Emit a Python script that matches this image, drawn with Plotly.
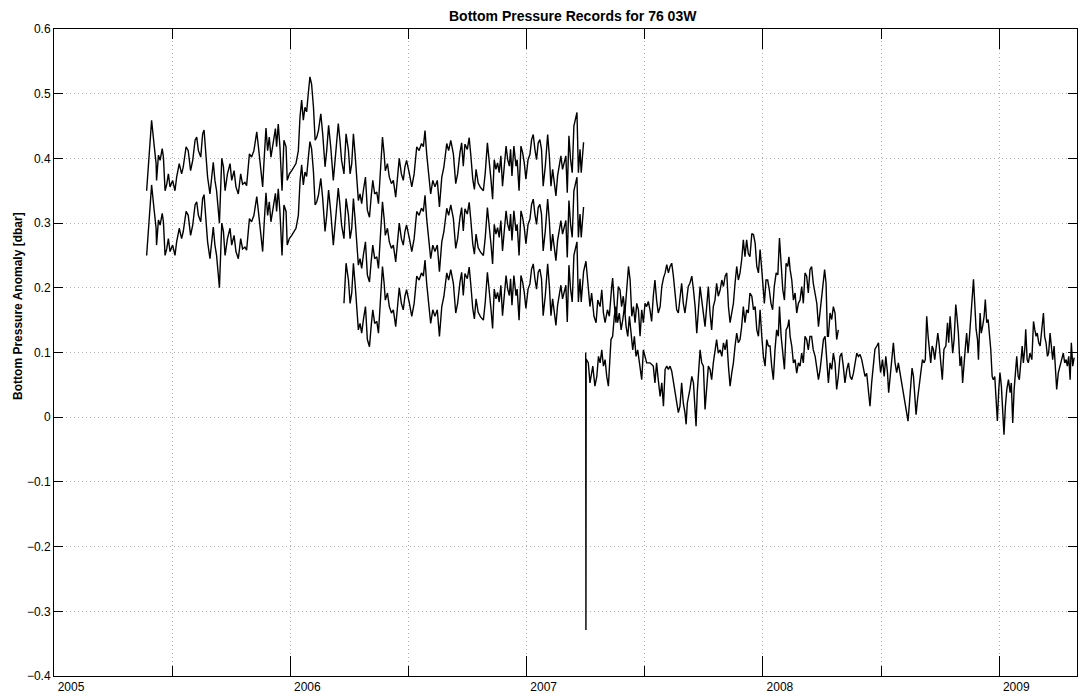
import plotly.graph_objects as go

# ---------------- data (decimal years, dbar) ----------------
t_ab = [
    2005.392, 2005.399, 2005.413, 2005.423, 2005.432, 2005.434, 2005.442, 2005.449, 2005.458, 2005.463,
    2005.470, 2005.477, 2005.484, 2005.491, 2005.502, 2005.512, 2005.519, 2005.530, 2005.540, 2005.547,
    2005.559, 2005.568, 2005.578, 2005.587, 2005.597, 2005.604, 2005.611, 2005.621, 2005.629, 2005.635,
    2005.643, 2005.650, 2005.660, 2005.667, 2005.674, 2005.681, 2005.688, 2005.700, 2005.710, 2005.717,
    2005.724, 2005.734, 2005.745, 2005.752, 2005.762, 2005.770, 2005.780, 2005.790, 2005.798, 2005.808,
    2005.815, 2005.827, 2005.836, 2005.846, 2005.858, 2005.865, 2005.875, 2005.883, 2005.889, 2005.897,
    2005.904, 2005.911, 2005.918, 2005.928, 2005.937, 2005.942, 2005.949, 2005.956, 2005.965, 2005.973,
    2005.982, 2005.987, 2005.996, 2006.006, 2006.016, 2006.024, 2006.034, 2006.041, 2006.048, 2006.055,
    2006.062, 2006.069, 2006.076, 2006.083, 2006.090, 2006.098, 2006.105, 2006.112, 2006.119, 2006.129,
    2006.137, 2006.147, 2006.154, 2006.162, 2006.171, 2006.182, 2006.193, 2006.203, 2006.210, 2006.217,
    2006.227, 2006.236, 2006.246, 2006.253, 2006.260, 2006.267, 2006.274, 2006.281, 2006.288, 2006.295,
    2006.302, 2006.309, 2006.318, 2006.326, 2006.335, 2006.342, 2006.349, 2006.357, 2006.366, 2006.373,
    2006.380, 2006.390, 2006.397, 2006.402, 2006.411, 2006.419, 2006.428, 2006.436, 2006.446, 2006.453,
    2006.461, 2006.470, 2006.478, 2006.485, 2006.492, 2006.504, 2006.514, 2006.524, 2006.535, 2006.545,
    2006.555, 2006.563, 2006.570, 2006.577, 2006.584, 2006.594, 2006.603, 2006.612, 2006.622, 2006.631,
    2006.641, 2006.650, 2006.662, 2006.670, 2006.679, 2006.690, 2006.700, 2006.708, 2006.718, 2006.725,
    2006.732, 2006.739, 2006.749, 2006.757, 2006.764, 2006.772, 2006.779, 2006.786, 2006.795, 2006.805,
    2006.817, 2006.825, 2006.834, 2006.842, 2006.849, 2006.856, 2006.863, 2006.870, 2006.877, 2006.884,
    2006.891, 2006.898, 2006.906, 2006.913, 2006.920, 2006.927, 2006.932, 2006.938, 2006.946, 2006.955,
    2006.960, 2006.968, 2006.976, 2006.983, 2006.990, 2006.997, 2007.006, 2007.014, 2007.021, 2007.028,
    2007.035, 2007.042, 2007.049, 2007.056, 2007.063, 2007.070, 2007.079, 2007.089, 2007.096, 2007.103,
    2007.110, 2007.117, 2007.124, 2007.131, 2007.138, 2007.145, 2007.152, 2007.159, 2007.166, 2007.172,
    2007.179, 2007.186, 2007.193, 2007.200, 2007.207, 2007.213, 2007.219, 2007.226, 2007.231, 2007.238,
    2007.241,
]

rec_a = [
    0.350, 0.387, 0.459, 0.423, 0.392, 0.366, 0.405, 0.397, 0.415, 0.402,
    0.350, 0.360, 0.376, 0.356, 0.366, 0.350, 0.371, 0.392, 0.376, 0.387,
    0.418, 0.412, 0.381, 0.397, 0.428, 0.433, 0.412, 0.402, 0.438, 0.444,
    0.407, 0.371, 0.345, 0.371, 0.394, 0.366, 0.350, 0.300, 0.400, 0.387,
    0.350, 0.376, 0.392, 0.366, 0.381, 0.356, 0.345, 0.376, 0.360, 0.363,
    0.358, 0.407, 0.402, 0.412, 0.441, 0.418, 0.387, 0.356, 0.397, 0.447,
    0.412, 0.433, 0.402, 0.428, 0.446, 0.418, 0.453, 0.418, 0.350, 0.428,
    0.418, 0.366, 0.376, 0.381, 0.387, 0.392, 0.412, 0.464, 0.490, 0.459,
    0.479, 0.472, 0.500, 0.526, 0.515, 0.479, 0.428, 0.433, 0.443, 0.469,
    0.438, 0.387, 0.412, 0.451, 0.418, 0.366, 0.412, 0.454, 0.428, 0.397,
    0.376, 0.438, 0.412, 0.376, 0.392, 0.438, 0.407, 0.361, 0.335, 0.345,
    0.330, 0.350, 0.371, 0.320, 0.309, 0.340, 0.366, 0.345, 0.348, 0.330,
    0.376, 0.433, 0.407, 0.381, 0.392, 0.371, 0.361, 0.366, 0.340, 0.366,
    0.400, 0.376, 0.366, 0.387, 0.397, 0.376, 0.356, 0.376, 0.418, 0.412,
    0.423, 0.418, 0.443, 0.407, 0.376, 0.345, 0.366, 0.356, 0.366, 0.325,
    0.371, 0.387, 0.423, 0.412, 0.428, 0.407, 0.361, 0.376, 0.409, 0.424,
    0.388, 0.422, 0.414, 0.432, 0.404, 0.368, 0.352, 0.383, 0.362, 0.355,
    0.350, 0.378, 0.424, 0.398, 0.368, 0.337, 0.398, 0.383, 0.393, 0.378,
    0.404, 0.357, 0.398, 0.419, 0.398, 0.388, 0.414, 0.373, 0.419, 0.388,
    0.398, 0.350, 0.419, 0.409, 0.393, 0.368, 0.398, 0.406, 0.429, 0.437,
    0.414, 0.398, 0.424, 0.429, 0.414, 0.357, 0.388, 0.437, 0.404, 0.357,
    0.383, 0.362, 0.342, 0.373, 0.388, 0.404, 0.383, 0.393, 0.404, 0.347,
    0.435, 0.398, 0.378, 0.450, 0.465, 0.471, 0.378, 0.414, 0.378, 0.419,
    0.425,
]

rec_b = [
    0.250, 0.287, 0.359, 0.323, 0.292, 0.266, 0.305, 0.297, 0.315, 0.302,
    0.250, 0.260, 0.276, 0.256, 0.266, 0.250, 0.271, 0.292, 0.276, 0.287,
    0.318, 0.312, 0.281, 0.297, 0.328, 0.333, 0.312, 0.302, 0.338, 0.344,
    0.307, 0.271, 0.245, 0.271, 0.294, 0.266, 0.250, 0.200, 0.300, 0.287,
    0.250, 0.276, 0.292, 0.266, 0.281, 0.256, 0.245, 0.276, 0.260, 0.263,
    0.258, 0.307, 0.302, 0.312, 0.341, 0.318, 0.287, 0.256, 0.297, 0.347,
    0.312, 0.333, 0.302, 0.328, 0.346, 0.318, 0.353, 0.318, 0.250, 0.328,
    0.318, 0.266, 0.276, 0.281, 0.287, 0.292, 0.312, 0.364, 0.390, 0.359,
    0.379, 0.372, 0.400, 0.426, 0.415, 0.379, 0.328, 0.333, 0.343, 0.369,
    0.338, 0.287, 0.312, 0.351, 0.318, 0.266, 0.312, 0.354, 0.328, 0.297,
    0.276, 0.338, 0.312, 0.276, 0.292, 0.338, 0.307, 0.261, 0.235, 0.245,
    0.230, 0.250, 0.271, 0.220, 0.209, 0.240, 0.266, 0.245, 0.248, 0.230,
    0.276, 0.333, 0.307, 0.281, 0.292, 0.271, 0.261, 0.266, 0.240, 0.266,
    0.300, 0.276, 0.266, 0.287, 0.297, 0.276, 0.256, 0.276, 0.318, 0.312,
    0.323, 0.318, 0.343, 0.307, 0.276, 0.245, 0.266, 0.256, 0.266, 0.225,
    0.271, 0.287, 0.323, 0.312, 0.328, 0.307, 0.261, 0.276, 0.309, 0.324,
    0.288, 0.322, 0.314, 0.332, 0.304, 0.268, 0.252, 0.283, 0.262, 0.255,
    0.250, 0.278, 0.324, 0.298, 0.268, 0.237, 0.298, 0.283, 0.293, 0.278,
    0.304, 0.257, 0.298, 0.319, 0.298, 0.288, 0.314, 0.273, 0.319, 0.288,
    0.298, 0.250, 0.319, 0.309, 0.293, 0.268, 0.298, 0.306, 0.329, 0.337,
    0.314, 0.298, 0.324, 0.329, 0.314, 0.257, 0.288, 0.337, 0.304, 0.257,
    0.283, 0.262, 0.242, 0.273, 0.288, 0.304, 0.283, 0.293, 0.304, 0.247,
    0.335, 0.298, 0.278, 0.350, 0.365, 0.371, 0.278, 0.314, 0.278, 0.319,
    0.325,
]

t_c_tail = [
    2007.251, 2007.261, 2007.268, 2007.275, 2007.285, 2007.294, 2007.301, 2007.311, 2007.318, 2007.325,
    2007.332, 2007.342, 2007.350, 2007.360, 2007.364, 2007.371, 2007.378, 2007.388, 2007.395, 2007.402,
    2007.409, 2007.416, 2007.423, 2007.431, 2007.438, 2007.445, 2007.452, 2007.459, 2007.466, 2007.473,
    2007.480, 2007.487, 2007.494, 2007.501, 2007.508, 2007.515, 2007.522, 2007.529, 2007.536, 2007.543,
    2007.550, 2007.557, 2007.565, 2007.572, 2007.579, 2007.586, 2007.593, 2007.600, 2007.607, 2007.614,
    2007.621, 2007.628, 2007.635, 2007.642, 2007.649, 2007.656, 2007.663, 2007.670, 2007.677, 2007.684,
    2007.691, 2007.699, 2007.706, 2007.713, 2007.720, 2007.727, 2007.734, 2007.741, 2007.748, 2007.755,
    2007.762, 2007.769, 2007.776, 2007.783, 2007.790, 2007.797, 2007.804, 2007.811, 2007.819, 2007.826,
    2007.833, 2007.840, 2007.847, 2007.854, 2007.861, 2007.868, 2007.875, 2007.882, 2007.889, 2007.896,
    2007.903, 2007.910, 2007.917, 2007.924, 2007.931, 2007.938, 2007.945, 2007.953, 2007.960, 2007.967,
    2007.974, 2007.981, 2007.988, 2007.995, 2007.999, 2008.006, 2008.013, 2008.020, 2008.027, 2008.034,
    2008.041, 2008.048, 2008.056, 2008.063, 2008.070, 2008.077, 2008.084, 2008.091, 2008.098, 2008.105,
    2008.110, 2008.115, 2008.122, 2008.129, 2008.136, 2008.143, 2008.150, 2008.157, 2008.164, 2008.171,
    2008.178, 2008.185, 2008.192, 2008.199, 2008.206, 2008.213, 2008.221, 2008.228, 2008.235, 2008.242,
    2008.249, 2008.256, 2008.261, 2008.267, 2008.273, 2008.277, 2008.284, 2008.291, 2008.298, 2008.305,
    2008.312, 2008.319,
]

rec_c = [
    # overlap with records A/B (from 2006.227)
    0.176, 0.238, 0.212, 0.176, 0.192, 0.238, 0.207, 0.161, 0.135, 0.145,
    0.130, 0.150, 0.171, 0.120, 0.109, 0.140, 0.166, 0.145, 0.148, 0.130,
    0.176, 0.233, 0.207, 0.181, 0.192, 0.171, 0.161, 0.166, 0.140, 0.166,
    0.200, 0.176, 0.166, 0.187, 0.197, 0.176, 0.156, 0.176, 0.218, 0.212,
    0.223, 0.218, 0.243, 0.207, 0.176, 0.145, 0.166, 0.156, 0.166, 0.125,
    0.171, 0.187, 0.223, 0.212, 0.228, 0.207, 0.161, 0.176, 0.209, 0.224,
    0.188, 0.222, 0.214, 0.232, 0.204, 0.168, 0.152, 0.183, 0.162, 0.155,
    0.150, 0.178, 0.224, 0.198, 0.168, 0.137, 0.198, 0.183, 0.193, 0.178,
    0.204, 0.157, 0.198, 0.219, 0.198, 0.188, 0.214, 0.173, 0.219, 0.188,
    0.198, 0.150, 0.219, 0.209, 0.193, 0.168, 0.198, 0.206, 0.229, 0.237,
    0.214, 0.198, 0.224, 0.229, 0.214, 0.157, 0.188, 0.237, 0.204, 0.157,
    0.183, 0.162, 0.142, 0.173, 0.188, 0.204, 0.183, 0.193, 0.204, 0.147,
    0.235, 0.198, 0.178, 0.250, 0.265, 0.271, 0.178, 0.214, 0.178, 0.219,
    0.225,
    # continuation after 2007.24
    0.241, 0.192, 0.171, 0.192, 0.156, 0.146, 0.181, 0.171, 0.197, 0.161,
    0.146, 0.166, 0.156, 0.202, 0.215, 0.176, 0.146, 0.202, 0.197, 0.171,
    0.187, 0.161, 0.202, 0.233, 0.212, 0.156, 0.171, 0.146, 0.176, 0.166,
    0.125, 0.166, 0.146, 0.176, 0.171, 0.179, 0.166, 0.148, 0.187, 0.212,
    0.181, 0.161, 0.171, 0.202, 0.215, 0.223, 0.236, 0.223, 0.233, 0.238,
    0.218, 0.187, 0.166, 0.161, 0.181, 0.207, 0.176, 0.161, 0.181, 0.202,
    0.207, 0.218, 0.197, 0.171, 0.130, 0.176, 0.202, 0.181, 0.156, 0.140,
    0.171, 0.202, 0.161, 0.135, 0.171, 0.181, 0.207, 0.187, 0.197, 0.212,
    0.202, 0.218, 0.223, 0.171, 0.146, 0.161, 0.176, 0.207, 0.233, 0.212,
    0.223, 0.243, 0.274, 0.248, 0.274, 0.253, 0.248, 0.284, 0.282, 0.269,
    0.233, 0.223, 0.259, 0.228, 0.202, 0.176, 0.212, 0.212, 0.197, 0.176,
    0.166, 0.202, 0.223, 0.220, 0.277, 0.233, 0.197, 0.181, 0.238, 0.233,
    0.248, 0.228, 0.212, 0.181, 0.192, 0.161, 0.176, 0.181, 0.202, 0.176,
    0.223, 0.218, 0.192, 0.228, 0.233, 0.207, 0.192, 0.176, 0.140, 0.166,
    0.187, 0.212, 0.228, 0.207, 0.125, 0.125, 0.161, 0.151, 0.171, 0.161,
    0.120, 0.135,
]
t_c = t_ab[100:] + t_c_tail

t_d = [
    2007.250, 2007.251, 2007.252, 2007.261, 2007.268, 2007.280, 2007.289, 2007.297, 2007.304, 2007.311,
    2007.318, 2007.325, 2007.332, 2007.339, 2007.346, 2007.353, 2007.357, 2007.364, 2007.371, 2007.378,
    2007.385, 2007.392, 2007.400, 2007.407, 2007.414, 2007.421, 2007.428, 2007.435, 2007.442, 2007.449,
    2007.456, 2007.463, 2007.470, 2007.480, 2007.487, 2007.494, 2007.501, 2007.508, 2007.522, 2007.536,
    2007.543, 2007.550, 2007.557, 2007.565, 2007.572, 2007.579, 2007.586, 2007.593, 2007.600, 2007.607,
    2007.614, 2007.621, 2007.628, 2007.635, 2007.642, 2007.649, 2007.656, 2007.663, 2007.670, 2007.675,
    2007.680, 2007.691, 2007.699, 2007.706, 2007.713, 2007.717, 2007.722, 2007.730, 2007.734, 2007.741,
    2007.748, 2007.755, 2007.762, 2007.769, 2007.776, 2007.783, 2007.790, 2007.797, 2007.804, 2007.811,
    2007.819, 2007.826, 2007.833, 2007.840, 2007.847, 2007.854, 2007.861, 2007.868, 2007.875, 2007.882,
    2007.889, 2007.896, 2007.903, 2007.910, 2007.917, 2007.924, 2007.931, 2007.938, 2007.945, 2007.953,
    2007.960, 2007.967, 2007.974, 2007.981, 2007.988, 2007.995, 2008.002, 2008.009, 2008.016, 2008.023,
    2008.030, 2008.037, 2008.044, 2008.051, 2008.058, 2008.065, 2008.070, 2008.077, 2008.084, 2008.091,
    2008.098, 2008.105, 2008.110, 2008.115, 2008.122, 2008.129, 2008.136, 2008.143, 2008.150, 2008.157,
    2008.164, 2008.171, 2008.178, 2008.185, 2008.192, 2008.199, 2008.206, 2008.213, 2008.221, 2008.228,
    2008.235, 2008.242, 2008.249, 2008.256, 2008.263, 2008.270, 2008.277, 2008.284, 2008.291, 2008.298,
    2008.305, 2008.312, 2008.319, 2008.326, 2008.333, 2008.340, 2008.347, 2008.355, 2008.362, 2008.369,
    2008.376, 2008.383, 2008.390, 2008.397, 2008.404, 2008.411, 2008.418, 2008.425, 2008.432, 2008.439,
    2008.446, 2008.453, 2008.460, 2008.467, 2008.474, 2008.482, 2008.489, 2008.493, 2008.498, 2008.506,
    2008.513, 2008.520, 2008.527, 2008.532, 2008.538, 2008.545, 2008.552, 2008.559, 2008.566, 2008.573,
    2008.580, 2008.587, 2008.594, 2008.601, 2008.608, 2008.614, 2008.620, 2008.625, 2008.631, 2008.637,
    2008.642, 2008.648, 2008.654, 2008.661, 2008.668, 2008.675, 2008.682, 2008.687, 2008.693, 2008.699,
    2008.704, 2008.710, 2008.716, 2008.721, 2008.727, 2008.733, 2008.740, 2008.745, 2008.752, 2008.759,
    2008.766, 2008.774, 2008.781, 2008.786, 2008.792, 2008.797, 2008.803, 2008.809, 2008.816, 2008.821,
    2008.827, 2008.834, 2008.840, 2008.845, 2008.851, 2008.857, 2008.862, 2008.868, 2008.874, 2008.879,
    2008.885, 2008.891, 2008.896, 2008.902, 2008.908, 2008.912, 2008.919, 2008.924, 2008.930, 2008.936,
    2008.941, 2008.947, 2008.953, 2008.958, 2008.964, 2008.970, 2008.975, 2008.981, 2008.987, 2008.992,
    2008.998, 2009.003, 2009.009, 2009.015, 2009.020, 2009.026, 2009.032, 2009.039, 2009.046, 2009.051,
    2009.057, 2009.063, 2009.068, 2009.074, 2009.080, 2009.085, 2009.091, 2009.097, 2009.102, 2009.108,
    2009.112, 2009.118, 2009.123, 2009.130, 2009.138, 2009.145, 2009.150, 2009.156, 2009.161, 2009.167,
    2009.173, 2009.180, 2009.187, 2009.192, 2009.198, 2009.204, 2009.209, 2009.215, 2009.221, 2009.226,
    2009.232, 2009.238, 2009.243, 2009.250, 2009.257, 2009.264, 2009.271, 2009.277, 2009.283, 2009.288,
    2009.294, 2009.300, 2009.305, 2009.311, 2009.317,
]

rec_d = [
    0.100, -0.329, 0.090, 0.084, 0.053, 0.079, 0.048, 0.063, 0.094, 0.084,
    0.104, 0.079, 0.089, 0.063, 0.048, 0.094, 0.120, 0.125, 0.156, 0.171,
    0.146, 0.161, 0.135, 0.151, 0.171, 0.140, 0.125, 0.156, 0.130, 0.104,
    0.125, 0.094, 0.104, 0.079, 0.058, 0.104, 0.094, 0.084, 0.084, 0.079,
    0.053, 0.084, 0.058, 0.032, 0.053, 0.017, 0.074, 0.079, 0.074, 0.079,
    0.071, 0.053, 0.043, 0.022, 0.007, 0.017, 0.053, 0.022, 0.007, -0.011,
    0.022, 0.043, 0.063, 0.053, 0.017, -0.014, 0.038, 0.084, 0.104, 0.084,
    0.079, 0.012, 0.053, 0.079, 0.074, 0.058, 0.084, 0.104, 0.120, 0.099,
    0.104, 0.094, 0.115, 0.104, 0.120, 0.079, 0.048, 0.068, 0.084, 0.110,
    0.130, 0.115, 0.120, 0.140, 0.171, 0.146, 0.166, 0.161, 0.192, 0.187,
    0.166, 0.171, 0.135, 0.125, 0.166, 0.125, 0.094, 0.079, 0.120, 0.110,
    0.110, 0.079, 0.058, 0.104, 0.135, 0.125, 0.171, 0.125, 0.094, 0.074,
    0.135, 0.140, 0.151, 0.125, 0.110, 0.084, 0.089, 0.068, 0.084, 0.079,
    0.099, 0.084, 0.125, 0.120, 0.104, 0.125, 0.125, 0.104, 0.094, 0.079,
    0.058, 0.074, 0.094, 0.120, 0.125, 0.094, 0.053, 0.084, 0.074, 0.099,
    0.084, 0.043, 0.063, 0.094, 0.099, 0.079, 0.053, 0.074, 0.084, 0.063,
    0.058, 0.068, 0.084, 0.099, 0.094, 0.097, 0.089, 0.074, 0.063, 0.068,
    0.043, 0.017, 0.053, 0.084, 0.105, 0.110, 0.115, 0.089, 0.069, 0.089,
    0.063, 0.094, 0.069, 0.038, 0.063, 0.094, 0.115, 0.084, 0.069, 0.084,
    0.069, 0.058, 0.043, 0.022, 0.012, -0.006, 0.022, 0.048, 0.076, 0.063,
    0.032, 0.004, 0.027, 0.053, 0.069, 0.089, 0.084, 0.089, 0.156, 0.125,
    0.105, 0.084, 0.110, 0.105, 0.089, 0.110, 0.130, 0.115, 0.089, 0.058,
    0.105, 0.110, 0.146, 0.115, 0.156, 0.120, 0.099, 0.120, 0.174, 0.156,
    0.130, 0.079, 0.094, 0.053, 0.089, 0.110, 0.130, 0.099, 0.125, 0.161,
    0.182, 0.213, 0.166, 0.136, 0.120, 0.089, 0.161, 0.130, 0.141, 0.156,
    0.182, 0.146, 0.151, 0.130, 0.105, 0.063, 0.058, 0.063, 0.027, -0.006,
    0.043, 0.069, 0.048, 0.007, -0.027, 0.017, 0.043, 0.058, 0.038, 0.053,
    -0.009, 0.043, 0.063, 0.094, 0.063, 0.058, 0.084, 0.110, 0.084, 0.105,
    0.136, 0.089, 0.084, 0.099, 0.089, 0.148, 0.136, 0.125, 0.130, 0.115,
    0.110, 0.136, 0.161, 0.125, 0.115, 0.094, 0.099, 0.130, 0.105, 0.089,
    0.110, 0.063, 0.043, 0.069, 0.079, 0.089, 0.099, 0.084, 0.089, 0.079,
    0.094, 0.058, 0.115, 0.079, 0.092,
]

x_major = [2005, 2006, 2007, 2008, 2009]
x_major_text = ["2005", "2006", "2007", "2008", "2009"]
x_minor = [2005.5, 2006.5, 2007.5, 2008.5]
y_ticks = [-0.4, -0.3, -0.2, -0.1, 0.0, 0.1, 0.2, 0.3, 0.4, 0.5, 0.6]
y_tick_text = ["\u22120.4", "\u22120.3", "\u22120.2", "\u22120.1", "0",
               "0.1", "0.2", "0.3", "0.4", "0.5", "0.6"]

TITLE = "Bottom Pressure Records for 76 03W"
YLABEL = "Bottom Pressure Anomaly [dbar]"

# ---------------- figure ----------------
fig = go.Figure()
line_style = dict(color="#000000", width=1.4)
for xs, ys in [(t_ab, rec_a), (t_ab, rec_b), (t_c, rec_c), (t_d, rec_d)]:
    fig.add_trace(go.Scatter(x=xs, y=ys, mode="lines", line=line_style,
                             showlegend=False, hoverinfo="skip"))

FONT = "Liberation Sans, Arial, Helvetica, sans-serif"
grid_col = "#b0b0b0"
grid_dash = "1px,3px"

fig.update_layout(
    width=1084, height=695,
    margin=dict(l=54, r=7, t=29, b=19, autoexpand=False),
    paper_bgcolor="white", plot_bgcolor="white",
    font=dict(family=FONT, size=12, color="#000000"),
    showlegend=False,
)

fig.update_xaxes(
    range=[2005, 2009.329], automargin=False,
    tickmode="array", tickvals=x_major, ticktext=x_major_text,
    ticks="inside", ticklen=20, tickwidth=1, tickcolor="#000000",
    ticklabelshift=17,
    showline=True, linecolor="#000000", linewidth=1, mirror="ticks",
    showgrid=True, gridcolor=grid_col, gridwidth=1, griddash=grid_dash,
    zeroline=False,
    tickfont=dict(size=12, family=FONT, color="#000000"),
    minor=dict(tickmode="array", tickvals=x_minor, ticks="inside", ticklen=10,
               tickwidth=1, tickcolor="#000000",
               showgrid=True, gridcolor=grid_col, gridwidth=1, griddash=grid_dash),
)

fig.update_yaxes(
    range=[-0.4, 0.6], automargin=False,
    tickmode="array", tickvals=y_ticks, ticktext=y_tick_text,
    ticks="inside", ticklen=9, tickwidth=1, tickcolor="#000000",
    showline=True, linecolor="#000000", linewidth=1, mirror="ticks",
    showgrid=True, gridcolor=grid_col, gridwidth=1, griddash=grid_dash,
    zeroline=False,
    tickfont=dict(size=12, family=FONT, color="#000000"),
)

fig.add_annotation(
    text="<b>" + TITLE + "</b>", xref="paper", yref="paper",
    x=0.507, y=1.0, yshift=13, xanchor="center", yanchor="middle",
    showarrow=False, font=dict(family=FONT, size=14, color="#000000"),
)
fig.add_annotation(
    text="<b>" + YLABEL + "</b>", xref="paper", yref="paper",
    x=-0.0352, y=0.572, xanchor="center", yanchor="middle", textangle=-90,
    showarrow=False, font=dict(family=FONT, size=12, color="#000000"),
)

# remove the page's default 8px body margin so the figure fills the window
fig.write_html(
    "out.html",
    config={"displayModeBar": False},
    post_script="document.body.style.margin='0';document.body.style.overflow='hidden';",
)
